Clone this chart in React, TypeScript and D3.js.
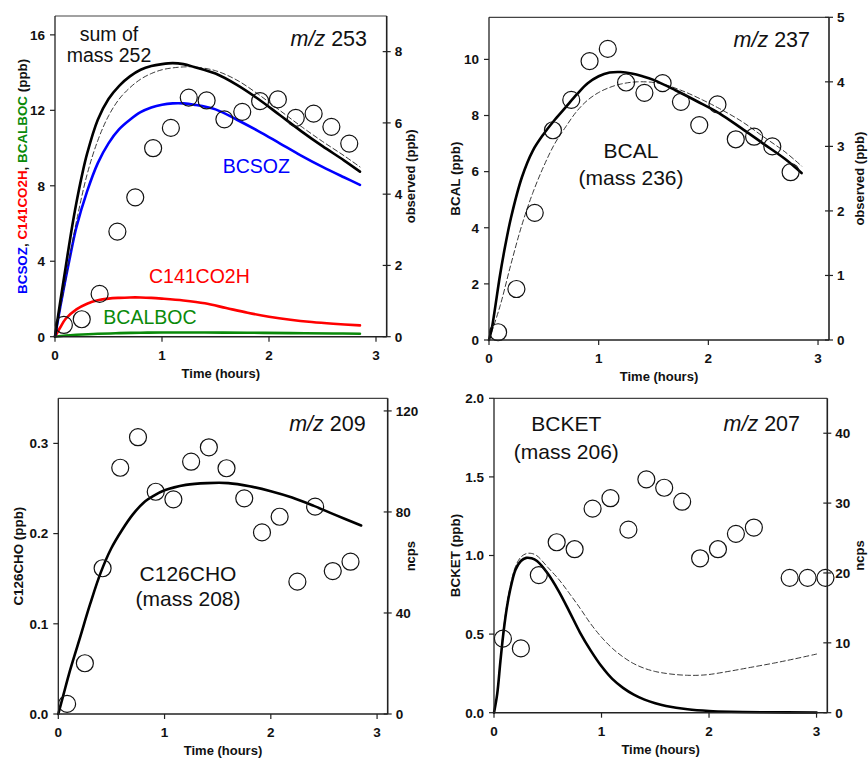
import React from 'react';
import * as d3 from 'd3';

// ---------- DATA ----------
// observation times (hours)
const obsTime = [0.083, 0.25, 0.417, 0.583, 0.75, 0.917, 1.083, 1.25, 1.417, 1.583, 1.75, 1.917, 2.083, 2.25, 2.417, 2.583, 2.75];
const obsTimeKet = [0.083, 0.25, 0.417, 0.583, 0.75, 0.917, 1.083, 1.25, 1.417, 1.583, 1.75, 1.917, 2.083, 2.25, 2.417, 2.75, 2.917, 3.083];

// observed values (right axes)
const obs253 = [0.33, 0.49, 1.2, 2.95, 3.91, 5.29, 5.86, 6.71, 6.63, 6.1, 6.31, 6.61, 6.66, 6.14, 6.26, 5.89, 5.42];
const obs237 = [0.12, 0.79, 1.97, 3.25, 3.72, 4.32, 4.51, 3.99, 3.83, 3.98, 3.69, 3.33, 3.65, 3.11, 3.15, 3.0, 2.6];
const obs209 = [4.0, 20.1, 57.7, 97.5, 109.6, 88.0, 85.0, 99.9, 105.6, 97.3, 85.4, 71.9, 78.1, 52.4, 82.1, 56.6, 60.3];
const obs207 = [10.6, 9.2, 19.7, 24.4, 23.4, 29.2, 30.7, 26.2, 33.4, 32.2, 30.2, 22.1, 23.4, 25.6, 26.5, 19.3, 19.3, 19.3];

// modelled values [time, ppb] (left axes)
const sum252: [number, number][] = [[0, 0], [0.05, 1.9], [0.1, 3.7], [0.15, 5.5], [0.2, 7.1], [0.25, 8.5], [0.3, 9.7], [0.4, 11.5], [0.5, 12.6], [0.6, 13.3], [0.7, 13.8], [0.8, 14.15], [0.9, 14.35], [1.0, 14.45], [1.1, 14.5], [1.2, 14.45], [1.3, 14.3], [1.5, 13.95], [1.7, 13.35], [1.9, 12.6], [2.1, 11.75], [2.3, 10.9], [2.5, 10.1], [2.7, 9.35], [2.85, 8.75]];
const sum252Alt: [number, number][] = [[0, 0], [0.05, 1.5], [0.1, 3.0], [0.15, 4.6], [0.2, 6.1], [0.3, 8.6], [0.4, 10.4], [0.5, 11.7], [0.6, 12.6], [0.7, 13.2], [0.8, 13.65], [0.9, 13.95], [1.0, 14.15], [1.1, 14.25], [1.2, 14.3], [1.3, 14.3], [1.5, 14.1], [1.7, 13.6], [1.9, 12.85], [2.1, 12.0], [2.3, 11.15], [2.5, 10.35], [2.7, 9.6], [2.85, 9.0]];
const bcsoz: [number, number][] = [[0, 0], [0.05, 1.6], [0.1, 3.1], [0.15, 4.5], [0.2, 5.8], [0.3, 7.7], [0.4, 9.2], [0.5, 10.25], [0.6, 11.0], [0.7, 11.5], [0.8, 11.9], [0.9, 12.15], [1.0, 12.3], [1.1, 12.37], [1.2, 12.37], [1.3, 12.3], [1.5, 12.05], [1.7, 11.5], [1.9, 10.9], [2.1, 10.25], [2.3, 9.6], [2.5, 9.0], [2.7, 8.45], [2.85, 8.05]];
const c141co2h: [number, number][] = [[0, 0], [0.05, 0.5], [0.1, 0.95], [0.2, 1.45], [0.3, 1.75], [0.4, 1.93], [0.5, 2.02], [0.6, 2.06], [0.7, 2.08], [0.8, 2.08], [0.9, 2.06], [1.0, 2.02], [1.2, 1.92], [1.4, 1.77], [1.6, 1.52], [1.8, 1.27], [2.0, 1.06], [2.2, 0.9], [2.4, 0.78], [2.6, 0.69], [2.85, 0.6]];
const bcalboc: [number, number][] = [[0, 0], [0.1, 0.06], [0.2, 0.1], [0.4, 0.16], [0.6, 0.19], [0.8, 0.21], [1.0, 0.22], [1.4, 0.22], [1.8, 0.21], [2.2, 0.19], [2.6, 0.17], [2.85, 0.16]];

const bcal: [number, number][] = [[0, 0], [0.025, 0.4], [0.05, 1.0], [0.1, 2.3], [0.15, 3.4], [0.2, 4.35], [0.3, 5.8], [0.4, 6.75], [0.5, 7.35], [0.6, 7.85], [0.7, 8.3], [0.8, 8.75], [0.9, 9.15], [1.0, 9.4], [1.1, 9.53], [1.2, 9.55], [1.3, 9.5], [1.4, 9.4], [1.5, 9.27], [1.7, 8.9], [1.9, 8.5], [2.1, 8.08], [2.3, 7.55], [2.5, 7.0], [2.7, 6.45], [2.85, 5.95]];
const bcalAlt: [number, number][] = [[0, 0], [0.1, 1.2], [0.2, 2.7], [0.3, 4.1], [0.4, 5.25], [0.5, 6.2], [0.6, 7.0], [0.7, 7.6], [0.8, 8.15], [0.9, 8.55], [1.0, 8.82], [1.1, 9.0], [1.2, 9.12], [1.35, 9.2], [1.55, 9.15], [1.75, 8.9], [1.95, 8.55], [2.1, 8.25], [2.3, 7.8], [2.5, 7.25], [2.7, 6.7], [2.85, 6.2]];

const c126cho: [number, number][] = [[0, 0], [0.05, 0.022], [0.1, 0.044], [0.2, 0.083], [0.3, 0.122], [0.4, 0.157], [0.5, 0.184], [0.6, 0.204], [0.7, 0.221], [0.8, 0.234], [0.9, 0.242], [1.0, 0.248], [1.2, 0.254], [1.4, 0.256], [1.6, 0.256], [1.8, 0.2525], [2.0, 0.247], [2.2, 0.24], [2.4, 0.231], [2.6, 0.221], [2.85, 0.209]];

const bcket: [number, number][] = [[0, 0], [0.03, 0.12], [0.06, 0.33], [0.09, 0.52], [0.12, 0.67], [0.15, 0.78], [0.2, 0.91], [0.25, 0.965], [0.3, 0.985], [0.35, 0.982], [0.4, 0.965], [0.5, 0.885], [0.6, 0.775], [0.7, 0.645], [0.8, 0.51], [0.9, 0.395], [1.0, 0.295], [1.1, 0.215], [1.2, 0.158], [1.3, 0.115], [1.4, 0.083], [1.5, 0.06], [1.6, 0.043], [1.8, 0.022], [2.0, 0.011], [2.2, 0.006], [2.5, 0.003], [3.0, 0.001]];
const bcketAlt: [number, number][] = [[0, 0], [0.03, 0.12], [0.06, 0.34], [0.09, 0.54], [0.12, 0.69], [0.15, 0.8], [0.2, 0.93], [0.25, 0.99], [0.3, 1.012], [0.35, 1.013], [0.4, 0.998], [0.5, 0.925], [0.6, 0.85], [0.7, 0.76], [0.8, 0.665], [0.9, 0.565], [1.0, 0.48], [1.1, 0.41], [1.2, 0.355], [1.3, 0.312], [1.4, 0.282], [1.5, 0.262], [1.6, 0.25], [1.7, 0.242], [1.8, 0.238], [1.9, 0.238], [2.0, 0.243], [2.2, 0.265], [2.4, 0.29], [2.6, 0.315], [2.8, 0.343], [3.0, 0.373]];

// tick values
const xTicks = [0, 1, 2, 3];
const ticksL253 = [0, 4, 8, 12, 16];
const ticksR253 = [0, 2, 4, 6, 8];
const ticksL237 = [0, 2, 4, 6, 8, 10];
const ticksR237 = [0, 1, 2, 3, 4, 5];
const ticksL209 = [0, 0.1, 0.2, 0.3];
const ticksR209 = [0, 40, 80, 120];
const ticksL207 = [0, 0.5, 1.0, 1.5, 2.0];
const ticksR207 = [0, 10, 20, 30, 40];

// ---------- DRAWING ----------
const FONT = "'Liberation Sans', Arial, Helvetica, sans-serif";
const BLUE = '#0000ff';
const RED = '#ff0000';
const GREEN = '#0a8a0a';

type Line = { pts: [number, number][]; color: string; width: number; dash?: string };
type Label = { text: React.ReactNode; x: number; y: number; anchor?: string; size?: number; color?: string };

type PanelProps = {
  left: number; right: number; top: number; bottom: number;
  yL: [number, number]; yR: [number, number];
  ticksL: number[]; ticksR: number[]; fmtL: (v: number) => string;
  lines: Line[];
  obsT: number[]; obsV: number[];
  leftTitle: React.ReactNode; rightTitle: string;
  leftTitleX: number; rightTitleX: number;
  labels: Label[];
};

function Panel(p: PanelProps) {
  const x = d3.scaleLinear().domain([0, 3.1]).range([p.left, p.right]);
  const yL = d3.scaleLinear().domain(p.yL).range([p.bottom, p.top]);
  const yR = d3.scaleLinear().domain(p.yR).range([p.bottom, p.top]);
  const gen = d3.line<[number, number]>().x(d => x(d[0])).y(d => yL(d[1])).curve(d3.curveCatmullRom.alpha(0.5));
  const axisColor = '#222';
  const midY = (p.top + p.bottom) / 2;
  return (
    <g>
      {p.lines.map((l, i) => (
        <path key={i} d={gen(l.pts) || ''} fill="none" stroke={l.color} strokeWidth={l.width}
          strokeDasharray={l.dash} strokeLinejoin="round" strokeLinecap="round" />
      ))}
      {p.obsT.map((t, i) => (
        <circle key={i} cx={x(t)} cy={yR(p.obsV[i])} r={8.5} fill="none" stroke="#111" strokeWidth={1.2} />
      ))}
      <line x1={p.left} x2={p.right} y1={p.top} y2={p.top} stroke="#444" strokeWidth={1.2} />
      <line x1={p.left} x2={p.left} y1={p.top} y2={p.bottom} stroke={axisColor} strokeWidth={1.3} />
      <line x1={p.right} x2={p.right} y1={p.top} y2={p.bottom} stroke={axisColor} strokeWidth={1.6} />
      <line x1={p.left} x2={p.right} y1={p.bottom} y2={p.bottom} stroke={axisColor} strokeWidth={1.4} />
      {xTicks.map(t => (
        <g key={t}>
          <line x1={x(t)} x2={x(t)} y1={p.bottom} y2={p.bottom + 5} stroke={axisColor} strokeWidth={1.2} />
          <text x={x(t)} y={p.bottom + 23} textAnchor="middle" fontFamily={FONT} fontWeight="bold" fontSize={13.5} fill="#111">{t}</text>
        </g>
      ))}
      {p.ticksL.map(v => (
        <g key={v}>
          <line x1={p.left - 5} x2={p.left} y1={yL(v)} y2={yL(v)} stroke={axisColor} strokeWidth={1.2} />
          <text x={p.left - 10} y={yL(v)} dy="0.36em" textAnchor="end" fontFamily={FONT} fontWeight="bold" fontSize={13.5} fill="#111">{p.fmtL(v)}</text>
        </g>
      ))}
      {p.ticksR.map(v => (
        <g key={v}>
          <line x1={p.right - 4} x2={p.right + 4} y1={yR(v)} y2={yR(v)} stroke={axisColor} strokeWidth={1.2} />
          <text x={p.right + 8} y={yR(v)} dy="0.36em" textAnchor="start" fontFamily={FONT} fontWeight="bold" fontSize={13.5} fill="#111">{v}</text>
        </g>
      ))}
      <text x={(p.left + p.right) / 2} y={p.bottom + 41} textAnchor="middle" fontFamily={FONT} fontWeight="bold" fontSize={13} fill="#111">Time (hours)</text>
      <text transform={`translate(${p.leftTitleX},${midY}) rotate(-90)`} dy="0.36em" textAnchor="middle" fontFamily={FONT} fontWeight="bold" fontSize={13.4} fill="#111">{p.leftTitle}</text>
      <text transform={`translate(${p.rightTitleX},${midY}) rotate(-90)`} dy="0.36em" textAnchor="middle" fontFamily={FONT} fontWeight="bold" fontSize={13} fill="#111">{p.rightTitle}</text>
      {p.labels.map((l, i) => (
        <text key={i} x={l.x} y={l.y} textAnchor={l.anchor || 'start'} fontFamily={FONT} fontSize={l.size || 19.5} fill={l.color || '#111'}>{l.text}</text>
      ))}
    </g>
  );
}

const mz = (n: string) => (<><tspan fontStyle="italic">m/z</tspan> {n}</>);

export default function App() {
  const f0 = (v: number) => String(v);
  const f1 = (v: number) => v.toFixed(1);
  return (
    <svg width={868} height={760} style={{ position: 'absolute', left: 0, top: 0, background: '#fff' }}>
      <Panel left={55} right={386.7} top={16} bottom={336.7} yL={[0, 17]} yR={[0, 9]}
        ticksL={ticksL253} ticksR={ticksR253} fmtL={f0}
        lines={[
          { pts: bcalboc, color: GREEN, width: 2.6 },
          { pts: c141co2h, color: RED, width: 2.6 },
          { pts: bcsoz, color: BLUE, width: 2.6 },
          { pts: sum252Alt, color: '#222', width: 0.9, dash: '5,3' },
          { pts: sum252, color: '#000', width: 2.6 },
        ]}
        obsT={obsTime} obsV={obs253}
        leftTitle={<><tspan fill={BLUE}>BCSOZ</tspan>, <tspan fill={RED}>C141CO2H</tspan>, <tspan fill={GREEN}>BCALBOC</tspan> (ppb)</>}
        rightTitle="observed (ppb)" leftTitleX={22} rightTitleX={410}
        labels={[
          { text: 'sum of', x: 109, y: 40.5, anchor: 'middle' },
          { text: 'mass 252', x: 109, y: 62, anchor: 'middle' },
          { text: mz('253'), x: 367, y: 46, anchor: 'end', size: 21.5 },
          { text: 'BCSOZ', x: 222.7, y: 173, color: BLUE },
          { text: 'C141CO2H', x: 149, y: 283, color: RED },
          { text: 'BCALBOC', x: 103.3, y: 324, color: GREEN },
        ]}
      />
      <Panel left={489} right={829} top={17.3} bottom={340} yL={[0, 11.5]} yR={[0, 5]}
        ticksL={ticksL237} ticksR={ticksR237} fmtL={f0}
        lines={[
          { pts: bcalAlt, color: '#222', width: 0.9, dash: '5,3' },
          { pts: bcal, color: '#000', width: 2.6 },
        ]}
        obsT={obsTime} obsV={obs237}
        leftTitle="BCAL (ppb)" rightTitle="observed (ppb)" leftTitleX={455} rightTitleX={859}
        labels={[
          { text: mz('237'), x: 810, y: 46.7, anchor: 'end', size: 21.5 },
          { text: 'BCAL', x: 631, y: 158, anchor: 'middle', size: 21 },
          { text: '(mass 236)', x: 631, y: 185, anchor: 'middle', size: 21 },
        ]}
      />
      <Panel left={58.3} right={387.7} top={398.3} bottom={714} yL={[0, 0.35]} yR={[0, 125]}
        ticksL={ticksL209} ticksR={ticksR209} fmtL={f1}
        lines={[
          { pts: c126cho, color: '#000', width: 2.6 },
        ]}
        obsT={obsTime} obsV={obs209}
        leftTitle="C126CHO (ppb)" rightTitle="ncps" leftTitleX={18} rightTitleX={410}
        labels={[
          { text: mz('209'), x: 365.7, y: 431, anchor: 'end', size: 21.5 },
          { text: 'C126CHO', x: 188, y: 581, anchor: 'middle', size: 21 },
          { text: '(mass 208)', x: 188, y: 606, anchor: 'middle', size: 21 },
        ]}
      />
      <Panel left={494} right={827.3} top={398.3} bottom={712.7} yL={[0, 2]} yR={[0, 45]}
        ticksL={ticksL207} ticksR={ticksR207} fmtL={f1}
        lines={[
          { pts: bcketAlt, color: '#222', width: 0.9, dash: '5,3' },
          { pts: bcket, color: '#000', width: 2.6 },
        ]}
        obsT={obsTimeKet} obsV={obs207}
        leftTitle="BCKET (ppb)" rightTitle="ncps" leftTitleX={455} rightTitleX={859}
        labels={[
          { text: mz('207'), x: 800, y: 431, anchor: 'end', size: 21.5 },
          { text: 'BCKET', x: 566.3, y: 431, anchor: 'middle', size: 21 },
          { text: '(mass 206)', x: 566.3, y: 459, anchor: 'middle', size: 21 },
        ]}
      />
    </svg>
  );
}
